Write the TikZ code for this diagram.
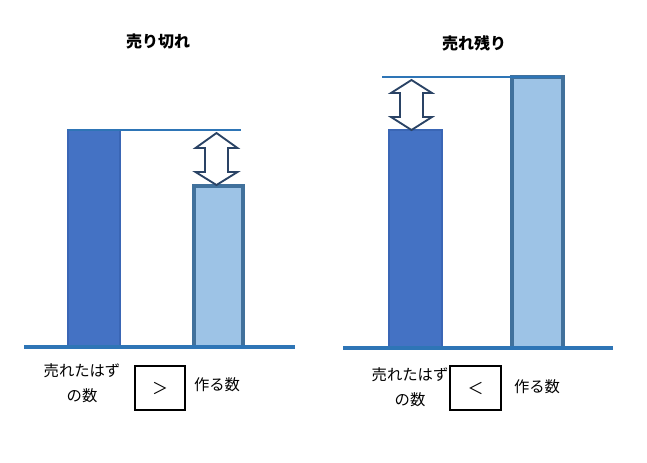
\documentclass[tikz,border=0pt]{standalone}
\usepackage{fontspec}
\setmainfont{Noto Sans CJK JP}
\definecolor{darkbar}{HTML}{4472C4}
\definecolor{darkedge}{HTML}{3A66B5}
\definecolor{lightbar}{HTML}{9DC3E6}
\definecolor{lightedge}{HTML}{41719C}
\definecolor{baseblue}{HTML}{2E75B6}
\definecolor{arrowedge}{HTML}{2A4365}
\tikzset{
  sold/.style={fill=darkbar,draw=darkedge,line width=1.2pt},
  made/.style={fill=lightbar,draw=lightedge,line width=2.8pt},
  ground/.style={baseblue,line width=2.3pt},
  level/.style={baseblue,line width=1.5pt},
  gap/.style={draw=arrowedge,fill=white,line width=1.4pt,line join=miter},
  lbl/.style={font=\fontsize{11.5pt}{18.5pt}\selectfont,align=center,inner sep=0pt},
  ttl/.style={font=\fontsize{12pt}{14pt}\selectfont\bfseries,inner sep=0pt},
  cmp/.style={draw=black,line width=1.5pt,minimum width=38pt,minimum height=33pt,
    font=\fontsize{12pt}{14pt}\selectfont,inner sep=0pt}
}
\begin{document}
\begin{tikzpicture}[x=0.75pt,y=-0.75pt]
  \useasboundingbox (0,0) rectangle (647,462);
  % Left-hand side part: sold out
  \node[ttl]            (T1)  at (158,41)  {売り切れ};
  \draw[sold] (68,130) rectangle (120,347);
  \draw[made] (194,186) rectangle (243,347);
  \draw[ground] (24,347) -- (295,347);
  \draw[level]  (68,130) -- (241,130);
  \draw[gap] (216.5,133) -- (237.5,148) -- (228,148) -- (228,172) -- (237.5,172)
    -- (216.5,185) -- (195.5,172) -- (205,172) -- (205,148) -- (195.5,148) -- cycle;
  \node[lbl]            (S1)  at (82,383)  {売れたはず\\の数};
  \node[cmp]            (C1)  at (160,388) {＞};
  \node[lbl]            (M1)  at (217,385) {作る数};
  % Right-hand side part: left over
  \node[ttl]            (T2)  at (474,43)  {売れ残り};
  \draw[sold] (389,130) rectangle (442,348);
  \draw[made] (512,77) rectangle (563,348);
  \draw[ground] (343,348) -- (613,348);
  \draw[level]  (382,77) -- (561,77);
  \draw[gap] (411.5,80) -- (432,93) -- (423,93) -- (423,117) -- (432,117)
    -- (411.5,130) -- (391,117) -- (400,117) -- (400,93) -- (391,93) -- cycle;
  \node[lbl]            (S2)  at (410,387) {売れたはず\\の数};
  \node[cmp]            (C2)  at (475.5,388) {＜};
  \node[lbl]            (M2)  at (537,387) {作る数};
\end{tikzpicture}
\end{document}
